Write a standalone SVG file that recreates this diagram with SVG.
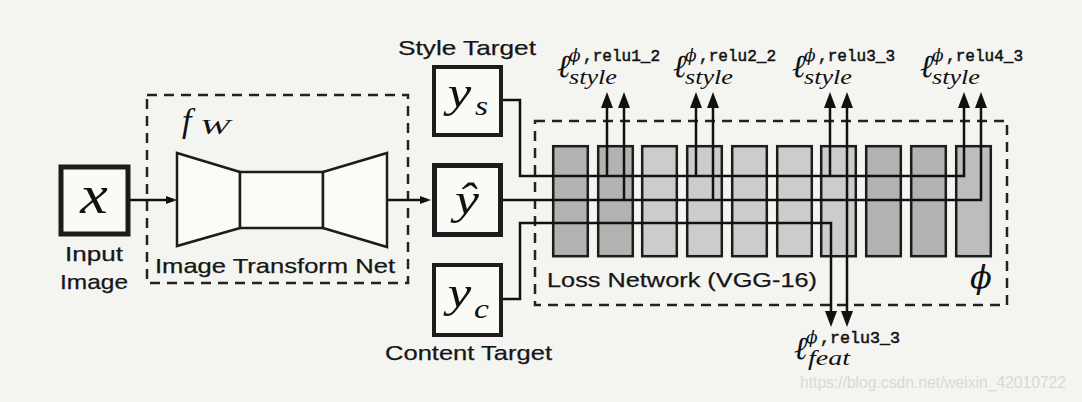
<svg xmlns="http://www.w3.org/2000/svg" width="1082" height="402" viewBox="0 0 1082 402">
<defs>
<style>
.bg{fill:#f4f4f1}
.box{fill:#fafaf7;stroke:#1c1c1c}
.shape{fill:#fbfbf8;stroke:#1c1c1c;stroke-width:2.5;stroke-linejoin:miter}
.dash{fill:none;stroke:#222;stroke-width:2.5;stroke-dasharray:10 7}
.blk{stroke:#1c1c1c;stroke-width:2.5}
.dk{fill:#b2b2b0}
.lt{fill:#cccccA}
.md{fill:#bdbdbb}
.conn{fill:none;stroke:#111;stroke-width:2.5}
.up{marker-end:url(#ah)}
.sm{marker-end:url(#ahs)}
.sans{font-family:"Liberation Sans",Arial,sans-serif;font-size:21px;fill:#161616;stroke:#161616;stroke-width:0.25}
.math{font-family:"Liberation Serif","DejaVu Serif",serif;font-style:italic;fill:#111}
.phi{font-family:"DejaVu Serif","Liberation Serif",serif;font-style:italic;fill:#111}
.tt{font-family:"Liberation Mono","DejaVu Sans Mono",monospace;font-size:16px;fill:#111;stroke:#111;stroke-width:0.5}
.wm{font-family:"Liberation Sans",Arial,sans-serif;font-size:16px;fill:#d9d9d7}
</style>
<marker id="ah" markerUnits="userSpaceOnUse" markerWidth="16" markerHeight="13" viewBox="0 0 16 13" refX="10" refY="6.5" orient="auto"><path d="M0,0.5 L16,6.5 L0,12.5 z" fill="#111"/></marker>
<marker id="ahs" markerUnits="userSpaceOnUse" markerWidth="11" markerHeight="9" viewBox="0 0 11 9" refX="7" refY="4.5" orient="auto"><path d="M0,0.5 L11,4.5 L0,8.5 z" fill="#111"/></marker>
</defs>
<rect class="bg" x="0" y="0" width="1082" height="402"/>

<g id="input-image">
<rect class="box" x="61" y="167" width="67" height="67" stroke-width="5"/>
<text class="math" transform="translate(94,213) scale(1.15,1)" font-size="54" text-anchor="middle">x</text>
<text class="sans" x="65" y="261" textLength="58" lengthAdjust="spacingAndGlyphs">Input</text>
<text class="sans" x="60" y="289" textLength="68" lengthAdjust="spacingAndGlyphs">Image</text>
</g>

<g id="image-transform-net">
<rect class="dash" x="147" y="95" width="261" height="188"/>
<text class="math" x="182" y="132" font-size="34">f</text>
<text class="math" x="200" y="134" font-size="20" textLength="30" lengthAdjust="spacingAndGlyphs">W</text>
<polygon class="shape" points="177,153 240,172 240,228 177,246"/>
<rect class="shape" x="240" y="172" width="83" height="56"/>
<polygon class="shape" points="323,172 387,153 387,247 323,228"/>
<text class="sans" x="155" y="273" textLength="240" lengthAdjust="spacingAndGlyphs">Image Transform Net</text>
</g>

<g id="loss-network">
<rect class="dash" x="535" y="121" width="472" height="184"/>
<rect class="blk dk" x="553.2" y="146.2" width="34.6" height="110"/>
<rect class="blk dk" x="598.2" y="146.2" width="34.6" height="110"/>
<rect class="blk lt" x="642.2" y="146.2" width="34.6" height="110"/>
<rect class="blk lt" x="687.2" y="146.2" width="34.6" height="110"/>
<rect class="blk lt" x="732.2" y="146.2" width="34.6" height="110"/>
<rect class="blk lt" x="777.2" y="146.2" width="34.6" height="110"/>
<rect class="blk lt" x="821.2" y="146.2" width="34.6" height="110"/>
<rect class="blk dk" x="866.2" y="146.2" width="34.6" height="110"/>
<rect class="blk dk" x="911.2" y="146.2" width="34.6" height="110"/>
<rect class="blk md" x="956.2" y="146.2" width="34.6" height="110"/>
<text class="sans" x="547" y="287" textLength="270" lengthAdjust="spacingAndGlyphs">Loss Network (VGG-16)</text>
<text class="phi" x="981" y="288" font-size="32" text-anchor="middle">ϕ</text>
</g>

<g id="style-target">
<text class="sans" x="398" y="55" textLength="138" lengthAdjust="spacingAndGlyphs">Style Target</text>
<rect class="box" x="434" y="67" width="67" height="68" stroke-width="4"/>
<text class="math" transform="translate(459.5,107) scale(1.2,1)" font-size="44" text-anchor="middle">y</text>
<text class="math" transform="translate(475,115) scale(1.2,1)" font-size="28">s</text>
</g>

<g id="output-yhat">
<rect class="box" x="434.5" y="165.5" width="66" height="69" stroke-width="5"/>
<text class="math" transform="translate(467,214) scale(1.2,1)" font-size="45" text-anchor="middle">ŷ</text>
</g>

<g id="content-target">
<rect class="box" x="434" y="265" width="67" height="70" stroke-width="4"/>
<text class="math" transform="translate(459.5,307) scale(1.2,1)" font-size="44" text-anchor="middle">y</text>
<text class="math" transform="translate(474,318) scale(1.2,1)" font-size="28">c</text>
<text class="sans" x="385" y="360" textLength="167" lengthAdjust="spacingAndGlyphs">Content Target</text>
</g>

<g id="connectors">
<path class="conn sm" d="M130,200 H173"/>
<path class="conn sm" d="M387,200 H427"/>
<path class="conn up" d="M503,100 H520 V176 H964 V98"/>
<path class="conn up" d="M607,176 V98"/>
<path class="conn up" d="M696,176 V98"/>
<path class="conn up" d="M830,176 V98"/>
<path class="conn up" d="M503,200 H981 V98"/>
<path class="conn up" d="M624,200 V98"/>
<path class="conn up" d="M713,200 V98"/>
<path class="conn up" d="M847,200 V98"/>
<path class="conn up" d="M847,200 V321"/>
<path class="conn up" d="M503,299 H520 V223 H831 V321"/>
</g>

<g id="loss-style-relu1_2" transform="translate(557,0)">
<text class="math" x="0" y="77" font-size="32">ℓ</text>
<text class="phi" x="12" y="61" font-size="17">ϕ</text>
<text class="tt" x="26" y="61" textLength="77" lengthAdjust="spacingAndGlyphs">,relu1_2</text>
<text class="math" x="12" y="84" font-size="21" textLength="48" lengthAdjust="spacingAndGlyphs">style</text>
</g>
<g id="loss-style-relu2_2" transform="translate(673,0)">
<text class="math" x="0" y="77" font-size="32">ℓ</text>
<text class="phi" x="12" y="61" font-size="17">ϕ</text>
<text class="tt" x="26" y="61" textLength="77" lengthAdjust="spacingAndGlyphs">,relu2_2</text>
<text class="math" x="12" y="84" font-size="21" textLength="48" lengthAdjust="spacingAndGlyphs">style</text>
</g>
<g id="loss-style-relu3_3" transform="translate(792,0)">
<text class="math" x="0" y="77" font-size="32">ℓ</text>
<text class="phi" x="12" y="61" font-size="17">ϕ</text>
<text class="tt" x="26" y="61" textLength="77" lengthAdjust="spacingAndGlyphs">,relu3_3</text>
<text class="math" x="12" y="84" font-size="21" textLength="48" lengthAdjust="spacingAndGlyphs">style</text>
</g>
<g id="loss-style-relu4_3" transform="translate(920,0)">
<text class="math" x="0" y="77" font-size="32">ℓ</text>
<text class="phi" x="12" y="61" font-size="17">ϕ</text>
<text class="tt" x="26" y="61" textLength="77" lengthAdjust="spacingAndGlyphs">,relu4_3</text>
<text class="math" x="12" y="84" font-size="21" textLength="48" lengthAdjust="spacingAndGlyphs">style</text>
</g>
<g id="loss-feat-relu3_3" transform="translate(794,0)">
<text class="math" x="0" y="359" font-size="32">ℓ</text>
<text class="phi" x="12" y="343" font-size="17">ϕ</text>
<text class="tt" x="26" y="343" textLength="80" lengthAdjust="spacingAndGlyphs">,relu3_3</text>
<text class="math" x="14" y="365" font-size="21" textLength="42" lengthAdjust="spacingAndGlyphs">feat</text>
</g>

<text class="wm" x="800" y="388" textLength="266" lengthAdjust="spacingAndGlyphs">https://blog.csdn.net/weixin_42010722</text>
</svg>
